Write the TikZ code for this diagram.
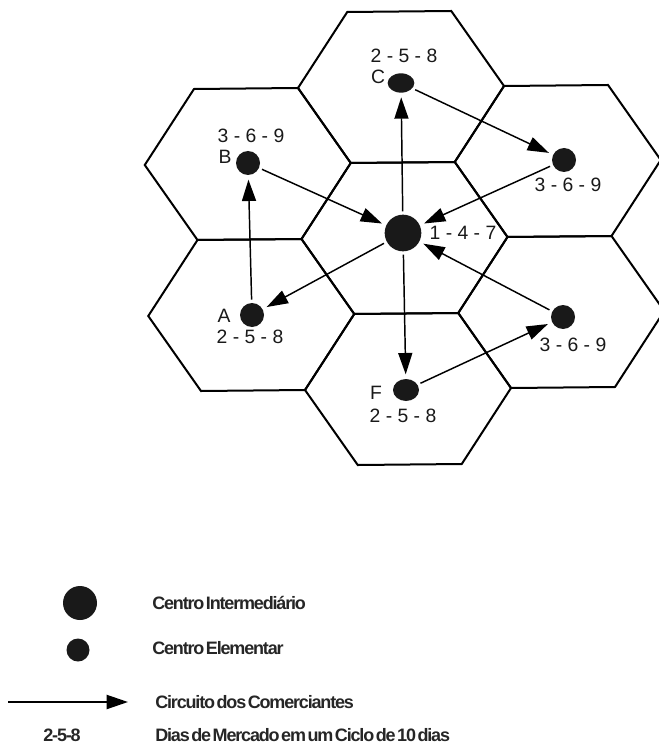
\documentclass[tikz,border=0pt]{standalone}
\usepackage{fontspec}
\setmainfont{Liberation Sans}
\newfontfamily\legendfont[LetterSpace=-6.5,WordSpace=0.4]{Liberation Sans}
\usetikzlibrary{arrows.meta,shapes.geometric}
\begin{document}
\begin{tikzpicture}[x=0.75pt,y=-0.75pt,
  hexline/.style={line width=1.5pt, line join=miter},
  conn/.style={line width=1.1pt, -{Triangle[length=16pt,width=10.5pt]}, shorten >=2pt, shorten <=1pt},
  dot/.style={circle, fill=black!90, inner sep=0pt, minimum size=18pt, outer sep=1.5pt},
  edot/.style={ellipse, fill=black!90, inner sep=0pt, outer sep=1.5pt},
  bigdot/.style={dot, minimum size=27.5pt},
  lbl/.style={font=\fontsize{14.5}{16}\selectfont, inner sep=0pt, text=black!90},
  leg/.style={font=\legendfont\bfseries\fontsize{13.5}{15}\selectfont, inner sep=0pt, anchor=west, text=black!85},
]
\useasboundingbox (0,0) rectangle (658,752);

% hexagons
\begin{scope}[shift={(404.5,238)}, x={(116.25pt,1.125pt)}, y={(2.625pt,-113.25pt)}]
 \foreach \i/\j in {0/0, 0/-1, 0/1, -1/-0.5, -1/0.5, 1/-0.5, 1/0.5}
   \draw[hexline] (\i-0.6645,\j) -- (\i-0.3355,\j-0.5) -- (\i+0.3355,\j-0.5)
     -- (\i+0.6645,\j) -- (\i+0.3355,\j+0.5) -- (\i-0.3355,\j+0.5) -- cycle;
\end{scope}

% centres
\node[bigdot] (cen) at (403,233) {};
\node[edot, minimum width=20pt, minimum height=14.5pt] (C) at (401,83) {};
\node[dot] (UR) at (564,160) {};
\node[dot] (LR) at (563,317) {};
\node[edot, minimum width=19.5pt, minimum height=16.5pt] (F) at (406,390) {};
\node[dot] (A) at (252,315) {};
\node[dot] (B) at (248,163) {};

% labels
\node[lbl] (tC) at (404,56) {2 - 5 - 8};
\node[lbl] (nC) at (378,77) {C};
\node[lbl] (tB) at (251,136) {3 - 6 - 9};
\node[lbl] (nB) at (225,157) {B};
\node[lbl] (tUR) at (568,185) {3 - 6 - 9};
\node[lbl] (tLR) at (573,345) {3 - 6 - 9};
\node[lbl] (tcen) at (463,233) {1 - 4 - 7};
\node[lbl] (nA) at (224,316) {A};
\node[lbl] (tA) at (250,337) {2 - 5 - 8};
\node[lbl] (nF) at (376,393) {F};
\node[lbl] (tF) at (403,416) {2 - 5 - 8};

% connectors
\draw[conn] (cen) -- (C);
\draw[conn] (C) -- (UR);
\draw[conn] (UR) -- (cen);
\draw[conn] (B) -- (cen);
\draw[conn] (cen) -- (A);
\draw[conn] (A) -- (B);
\draw[conn] (LR) -- (cen);
\draw[conn] (cen) -- (F);
\draw[conn] (F) -- (LR);

% legend
\node[dot, minimum size=25.5pt] (lg1) at (80,603) {};
\node[leg] (lt1) at (152,603) {Centro Intermediário};
\node[dot, minimum size=17.25pt] (lg2) at (78,650) {};
\node[leg] (lt2) at (152,648) {Centro Elementar};
\coordinate (la1) at (8,702);
\coordinate (la2) at (128,702);
\draw[conn, line width=1.6pt, shorten >=0pt, shorten <=0pt] (la1) -- (la2);
\node[leg] (lt3) at (155,702) {Circuito dos Comerciantes};
\node[leg, anchor=center] (lt4) at (62,735) {2-5-8};
\node[leg] (lt5) at (155,735) {Dias de Mercado em um Ciclo de 10 dias};
\end{tikzpicture}
\end{document}
